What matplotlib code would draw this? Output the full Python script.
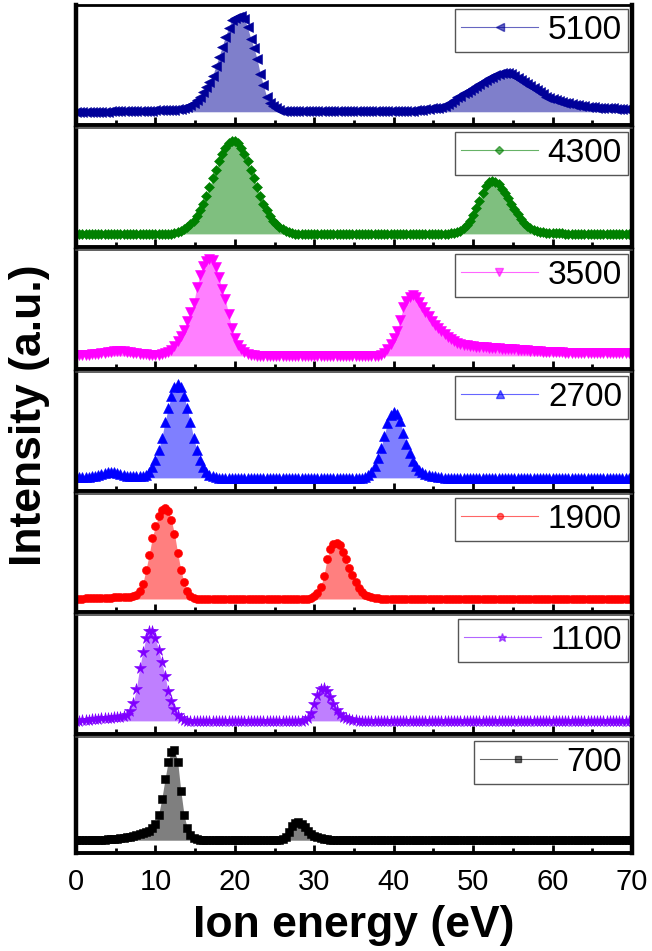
import numpy as np
import matplotlib
matplotlib.use('Agg')
import matplotlib.pyplot as plt
from matplotlib.lines import Line2D
from matplotlib.ticker import MultipleLocator

plt.rcParams['font.family'] = ['Liberation Sans', 'DejaVu Sans']

# ---------------- data ----------------
ENERGY_START = 0.0
ENERGY_STEP = 0.4
N_POINTS = 176
energy = ENERGY_START + ENERGY_STEP * np.arange(N_POINTS)

labels = ['5100', '4300', '3500', '2700', '1900', '1100', '700']

int_5100 = [
    0, 0, 0, 0, 0, 0, 0, 0, 0, 0,
    0, 1, 1, 1, 1, 1, 1, 1, 1, 1,
    1, 1, 1, 1, 1, 2, 2, 2, 2, 2,
    2, 2, 3, 3, 4, 5, 7, 9, 12, 15,
    19, 24, 29, 35, 45, 54, 64, 74, 82, 90,
    92, 93, 94, 91, 83, 72, 63, 52, 37, 26,
    15, 9, 6, 4, 2, 1, 1, 1, 1, 1,
    1, 1, 1, 1, 1, 1, 1, 1, 1, 1,
    1, 1, 1, 1, 1, 1, 1, 1, 1, 1,
    1, 1, 1, 1, 1, 1, 1, 1, 1, 1,
    1, 1, 1, 1, 1, 1, 1, 2, 2, 2,
    3, 3, 4, 4, 4, 5, 6, 8, 10, 12,
    15, 16, 18, 19, 21, 23, 25, 27, 29, 31,
    33, 34, 36, 37, 38, 38, 38, 37, 35, 33,
    31, 29, 27, 25, 23, 21, 19, 17, 15, 14,
    13, 12, 11, 10, 9, 9, 8, 7, 7, 6,
    6, 5, 5, 5, 4, 4, 4, 4, 4, 4,
    3, 3, 3, 3, 3, 3,
]

int_4300 = [
    0, 0, 0, 0, 0, 0, 0, 0, 0, 0,
    0, 0, 0, 0, 0, 0, 0, 0, 0, 0,
    0, 0, 0, 0, 0, 0, 0, 0, 0, 0,
    0, 1, 2, 3, 5, 7, 10, 13, 18, 24,
    30, 38, 46, 55, 63, 72, 79, 85, 90, 92,
    92, 90, 85, 79, 72, 63, 55, 46, 38, 30,
    24, 18, 13, 10, 7, 5, 3, 2, 1, 0,
    0, 0, 0, 0, 0, 0, 0, 0, 0, 0,
    0, 0, 0, 0, 0, 0, 0, 0, 0, 0,
    0, 0, 0, 0, 0, 0, 0, 0, 0, 0,
    0, 0, 0, 0, 0, 0, 0, 0, 0, 0,
    0, 0, 0, 0, 0, 0, 0, 0, 1, 1,
    2, 3, 6, 9, 13, 19, 26, 33, 41, 47,
    51, 52, 51, 49, 45, 41, 36, 30, 25, 20,
    15, 11, 8, 6, 4, 3, 2, 2, 1, 1,
    1, 1, 1, 1, 0, 0, 0, 0, 0, 0,
    0, 0, 0, 0, 0, 0, 0, 0, 0, 0,
    0, 0, 0, 0, 0, 0,
]

int_3500 = [
    1, 1, 1, 1, 1, 2, 2, 2, 3, 3,
    4, 4, 5, 5, 5, 5, 4, 4, 3, 3,
    2, 2, 2, 1, 1, 1, 1, 2, 3, 4,
    6, 10, 15, 20, 26, 35, 44, 52, 68, 80,
    89, 94, 96, 95, 88, 78, 66, 56, 42, 28,
    18, 11, 7, 4, 2, 1, 1, 0, 0, 0,
    0, 0, 0, 0, 0, 0, 0, 0, 0, 0,
    0, 0, 0, 0, 0, 0, 0, 0, 0, 0,
    0, 0, 0, 0, 0, 0, 0, 0, 0, 0,
    0, 0, 0, 0, 0, 0, 1, 3, 7, 12,
    18, 25, 36, 48, 54, 58, 60, 58, 53, 48,
    44, 40, 35, 31, 28, 25, 22, 19, 17, 15,
    13, 12, 11, 11, 10, 10, 9, 9, 9, 9,
    8, 8, 8, 8, 7, 7, 7, 7, 7, 6,
    6, 6, 6, 5, 5, 5, 5, 4, 4, 4,
    4, 4, 4, 4, 3, 3, 3, 3, 3, 3,
    3, 3, 3, 3, 3, 3, 3, 3, 3, 3,
    3, 3, 3, 3, 3, 3,
]

int_2700 = [
    1, 1, 1, 1, 1, 2, 2, 3, 4, 5,
    6, 6, 6, 5, 4, 3, 2, 2, 2, 2,
    2, 2, 3, 6, 11, 18, 28, 40, 55, 69,
    81, 90, 93, 90, 81, 69, 55, 40, 28, 18,
    11, 6, 3, 2, 1, 0, 0, 0, 0, 0,
    0, 0, 0, 0, 0, 0, 0, 0, 0, 0,
    0, 0, 0, 0, 0, 0, 0, 0, 0, 0,
    0, 0, 0, 0, 0, 0, 0, 0, 0, 0,
    0, 0, 0, 0, 0, 0, 0, 0, 0, 0,
    0, 1, 3, 6, 12, 20, 30, 42, 54, 62,
    65, 63, 56, 45, 34, 25, 17, 12, 8, 6,
    4, 3, 2, 2, 1, 1, 0, 0, 0, 0,
    0, 0, 0, 0, 0, 0, 0, 0, 0, 0,
    0, 0, 0, 0, 0, 0, 0, 0, 0, 0,
    0, 0, 0, 0, 0, 0, 0, 0, 0, 0,
    0, 0, 0, 0, 0, 0, 0, 0, 0, 0,
    0, 0, 0, 0, 0, 0, 0, 0, 0, 0,
    0, 0, 0, 0, 0, 0,
]

int_1900 = [
    0, 0, 0, 1, 1, 1, 1, 1, 1, 1,
    1, 1, 2, 2, 2, 2, 2, 2, 3, 4,
    8, 15, 29, 44, 61, 73, 83, 89, 91, 88,
    79, 65, 46, 29, 17, 8, 3, 1, 0, 0,
    0, 0, 0, 0, 0, 0, 0, 0, 0, 0,
    0, 0, 0, 0, 0, 0, 0, 0, 0, 0,
    0, 0, 0, 0, 0, 0, 0, 0, 0, 0,
    0, 0, 0, 0, 1, 3, 6, 12, 23, 40,
    50, 55, 56, 54, 47, 40, 31, 24, 17, 11,
    7, 4, 3, 2, 1, 1, 0, 0, 0, 0,
    0, 0, 0, 0, 0, 0, 0, 0, 0, 0,
    0, 0, 0, 0, 0, 0, 0, 0, 0, 0,
    0, 0, 0, 0, 0, 0, 0, 0, 0, 0,
    0, 0, 0, 0, 0, 0, 0, 0, 0, 0,
    0, 0, 0, 0, 0, 0, 0, 0, 0, 0,
    0, 0, 0, 0, 0, 0, 0, 0, 0, 0,
    0, 0, 0, 0, 0, 0, 0, 0, 0, 0,
    0, 0, 0, 0, 0, 0,
]

int_1100 = [
    0, 0, 1, 1, 1, 2, 2, 2, 3, 3,
    3, 3, 4, 4, 4, 5, 6, 10, 18, 32,
    52, 68, 82, 89, 89, 82, 70, 58, 45, 30,
    20, 12, 6, 3, 1, 0, 0, 0, 0, 0,
    0, 0, 0, 0, 0, 0, 0, 0, 0, 0,
    0, 0, 0, 0, 0, 0, 0, 0, 0, 0,
    0, 0, 0, 0, 0, 0, 0, 0, 0, 0,
    0, 0, 1, 3, 8, 17, 26, 32, 33, 30,
    24, 17, 11, 7, 4, 3, 2, 1, 1, 0,
    0, 0, 0, 0, 0, 0, 0, 0, 0, 0,
    0, 0, 0, 0, 0, 0, 0, 0, 0, 0,
    0, 0, 0, 0, 0, 0, 0, 0, 0, 0,
    0, 0, 0, 0, 0, 0, 0, 0, 0, 0,
    0, 0, 0, 0, 0, 0, 0, 0, 0, 0,
    0, 0, 0, 0, 0, 0, 0, 0, 0, 0,
    0, 0, 0, 0, 0, 0, 0, 0, 0, 0,
    0, 0, 0, 0, 0, 0, 0, 0, 0, 0,
    0, 0, 0, 0, 0, 0,
]

int_700 = [
    0, 0, 0, 0, 0, 0, 0, 0, 0, 0,
    1, 1, 1, 1, 2, 2, 3, 3, 4, 5,
    6, 7, 8, 9, 12, 17, 26, 42, 62, 80,
    90, 92, 80, 50, 26, 12, 5, 2, 1, 0,
    0, 0, 0, 0, 0, 0, 0, 0, 0, 0,
    0, 0, 0, 0, 0, 0, 0, 0, 0, 0,
    0, 0, 0, 0, 0, 1, 3, 8, 14, 18,
    19, 17, 13, 9, 6, 4, 3, 2, 1, 1,
    0, 0, 0, 0, 0, 0, 0, 0, 0, 0,
    0, 0, 0, 0, 0, 0, 0, 0, 0, 0,
    0, 0, 0, 0, 0, 0, 0, 0, 0, 0,
    0, 0, 0, 0, 0, 0, 0, 0, 0, 0,
    0, 0, 0, 0, 0, 0, 0, 0, 0, 0,
    0, 0, 0, 0, 0, 0, 0, 0, 0, 0,
    0, 0, 0, 0, 0, 0, 0, 0, 0, 0,
    0, 0, 0, 0, 0, 0, 0, 0, 0, 0,
    0, 0, 0, 0, 0, 0, 0, 0, 0, 0,
    0, 0, 0, 0, 0, 0,
]

series = [int_5100, int_4300, int_3500, int_2700, int_1900, int_1100, int_700]
x_ticks = [0, 10, 20, 30, 40, 50, 60, 70]

# ---------------- style ----------------
colors = ['#000099', '#008000', '#FF00FF', '#0000FF', '#FF0000', '#8000FF', '#000000']
markers = ['<', 'D', 'v', '^', 'o', '*', 's']
msizes = [7.0, 5.5, 7.0, 7.0, 5.8, 8.5, 5.2]

W, H = 652, 951
fig = plt.figure(figsize=(W / 100, H / 100), dpi=100)
fig.patch.set_facecolor('white')

tops = [5, 128, 250, 372, 494, 615, 737]
bots = [125, 247, 369, 491, 612, 734, 853]
left_px, right_px = 76, 632

for i, (lab, y) in enumerate(zip(labels, series)):
    ax = fig.add_axes([left_px / W, 1 - bots[i] / H,
                       (right_px - left_px) / W, (bots[i] - tops[i]) / H])
    y = np.asarray(y, dtype=float)
    c = colors[i]
    ax.fill_between(energy, y, 0, color=c, alpha=0.5, lw=0, zorder=1)
    ax.plot(energy, y, linestyle='none', marker=markers[i], ms=msizes[i],
            mec=c, mfc=c, mew=0.4, zorder=2, clip_on=True)
    ax.set_xlim(0, 70)
    ax.set_ylim(-13, 105)
    ax.set_yticks([])
    ax.set_xticks(x_ticks)
    ax.xaxis.set_minor_locator(MultipleLocator(5))
    ax.tick_params(axis='x', which='major', direction='in', length=6, width=2,
                   pad=11, labelsize=21, top=False)
    ax.tick_params(axis='x', which='minor', direction='in', length=3.5, width=2,
                   top=False)
    if i < len(labels) - 1:
        ax.tick_params(axis='x', which='both', labelbottom=False)
    ax.spines['left'].set_linewidth(3.2)
    ax.spines['right'].set_linewidth(3.2)
    ax.spines['bottom'].set_linewidth(2.8)
    ax.spines['top'].set_linewidth(2.0 if i == 0 else 1.2)
    if i > 0:
        ax.spines['top'].set_color('#444444')

    handle = Line2D([], [], color=c, lw=0.8, alpha=0.6, marker=markers[i],
                    ms=msizes[i] * 0.75, mfc=c, mec=c)
    leg = ax.legend([handle], [lab], loc='upper right', fontsize=24,
                    frameon=True, fancybox=False, edgecolor='#555555',
                    framealpha=1, borderpad=0.18, handlelength=2.3,
                    handletextpad=0.3, borderaxespad=0.12)
    leg.get_frame().set_linewidth(1.0)

fig.text(0.5 * (left_px + right_px) / W, 1 - 937 / H, 'Ion energy (eV)',
         ha='center', va='baseline', fontsize=32, fontweight='bold')
fig.text(30 / W, 1 - 415 / H, 'Intensity (a.u.)', rotation=90,
         ha='center', va='center', fontsize=32, fontweight='bold')

fig.savefig('out.png', dpi=100, facecolor='white')
